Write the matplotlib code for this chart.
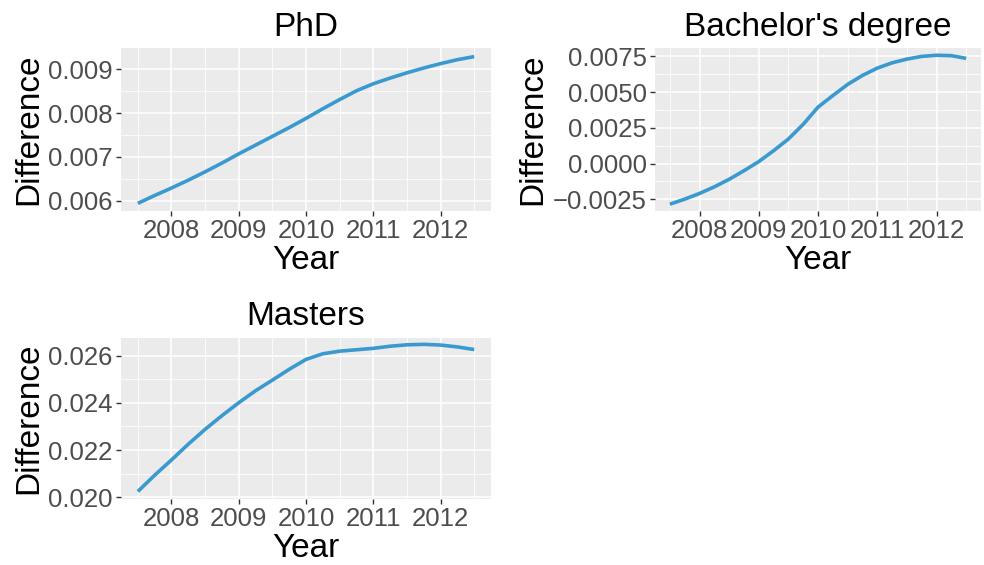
import matplotlib
matplotlib.use("Agg")
import matplotlib.pyplot as plt
from matplotlib.ticker import FixedLocator, FuncFormatter

plt.rcParams['font.family'] = ['Liberation Sans', 'DejaVu Sans']

# data (quarter-year steps)
years = [2007.5, 2007.75, 2008, 2008.25, 2008.5, 2008.75, 2009, 2009.25, 2009.5, 2009.75,
         2010, 2010.25, 2010.5, 2010.75, 2011, 2011.25, 2011.5, 2011.75, 2012, 2012.25, 2012.5]

phd = [0.00594, 0.00612, 0.00629, 0.00647, 0.00666, 0.00686, 0.00707, 0.00727, 0.00747, 0.00767,
       0.00788, 0.00810, 0.00831, 0.00851, 0.00867, 0.00880, 0.00892, 0.00903, 0.00913, 0.00922, 0.00929]

bachelor = [-0.00284, -0.00249, -0.00209, -0.00163, -0.00110, -0.00050, 0.00014, 0.00090, 0.00172, 0.00275,
            0.00395, 0.00476, 0.00554, 0.00617, 0.00668, 0.00705, 0.00731, 0.00750, 0.00758, 0.00755, 0.00736]

masters = [0.02024, 0.02093, 0.02158, 0.02225, 0.02288, 0.02346, 0.02401, 0.02452, 0.02497, 0.02543,
           0.02585, 0.02609, 0.02620, 0.02626, 0.02632, 0.02641, 0.02647, 0.02649, 0.02646, 0.02638, 0.02627]

year_ticks = [2008, 2009, 2010, 2011, 2012]
year_minor = [2007.5, 2008.5, 2009.5, 2010.5, 2011.5, 2012.5]

phd_ticks = [0.006, 0.007, 0.008, 0.009]
phd_minor = [0.0065, 0.0075, 0.0085]
bach_ticks = [-0.0025, 0.0, 0.0025, 0.005, 0.0075]
bach_minor = [-0.00125, 0.00125, 0.00375, 0.00625]
mast_ticks = [0.020, 0.022, 0.024, 0.026]
mast_minor = [0.021, 0.023, 0.025]

LINE = "#3A9AD0"
BG = "#EBEBEB"

fig = plt.figure(figsize=(9.84, 5.65), dpi=100)


def panel(rect, y, title, yt, ymin, ylim, decimals):
    ax = fig.add_axes(rect)
    ax.set_facecolor(BG)
    for s in ax.spines.values():
        s.set_visible(False)
    ax.plot(years, y, color=LINE, lw=2.6, solid_capstyle='butt', zorder=3)
    ax.set_xlim(2007.25, 2012.75)
    ax.set_ylim(*ylim)
    ax.xaxis.set_major_locator(FixedLocator(year_ticks))
    ax.xaxis.set_minor_locator(FixedLocator(year_minor))
    ax.yaxis.set_major_locator(FixedLocator(yt))
    ax.yaxis.set_minor_locator(FixedLocator(ymin))
    ax.yaxis.set_major_formatter(FuncFormatter(
        lambda v, p: ("{:.%df}" % decimals).format(v).replace("-", "\u2212")))
    ax.grid(which='major', color='white', lw=1.1)
    ax.grid(which='minor', color='white', lw=0.55)
    ax.set_axisbelow(True)
    ax.tick_params(which='major', length=3.5, width=1.0, color='#333333',
                   labelsize=18.5, labelcolor='#4D4D4D', pad=2.5)
    ax.tick_params(which='minor', length=0)
    ax.set_xlabel("Year", fontsize=24, labelpad=1)
    ax.set_ylabel("Difference", fontsize=24, labelpad=3)
    ax.set_title(title, fontsize=24, pad=9)
    return ax


panel([0.1230, 0.6265, 0.3760, 0.2885], phd, "PhD", phd_ticks, phd_minor,
      (0.005765, 0.009486), 3)
panel([0.6657, 0.6265, 0.3313, 0.2885], bachelor, "Bachelor's degree", bach_ticks, bach_minor,
      (-0.00332, 0.008085), 4)
panel([0.1230, 0.1168, 0.3760, 0.2850], masters, "Masters", mast_ticks, mast_minor,
      (0.01992, 0.02676), 3)

fig.savefig("out.png", dpi=100)
